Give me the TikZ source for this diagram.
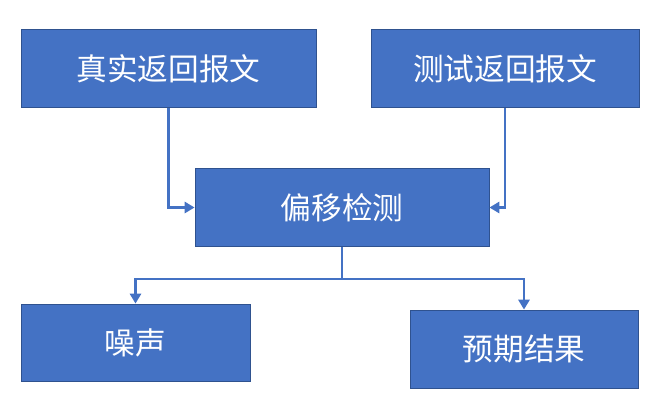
\documentclass[tikz,border=0pt]{standalone}
\usepackage{fontspec}
\usepackage{tikz}
\usetikzlibrary{arrows.meta,positioning}
\newfontfamily\cjk{Noto Sans CJK SC}
\definecolor{boxblue}{RGB}{68,114,196}
\definecolor{edgeblue}{RGB}{47,82,143}

\begin{document}
\begin{tikzpicture}[
      box/.style={rectangle, draw=edgeblue, line width=0.7pt, fill=boxblue, text=white, inner sep=0pt, minimum height=1.95cm, font=\cjk\fontsize{21.8}{24}\selectfont},
      arrow/.style={-{Triangle[width=8pt,length=7pt]}, draw=boxblue, line width=1.5pt}
    ]
    \useasboundingbox (0,0) rectangle (16.625,10.325);

    % Top row
    \node[box, minimum width=7.375cm] (real) at (4.2125,8.6125) {真实返回报文};
    \node[box, minimum width=6.7cm] (test) at (12.625,8.6125) {测试返回报文};

    % Middle
    \node[box, minimum width=7.35cm] (offset) at (8.55,5.1375) {偏移检测};

    % Bottom row
    \node[box, minimum width=5.725cm, minimum height=1.925cm] (noise) at (3.3875,1.7625) {噪声};
    \node[box, minimum width=5.7cm] (expect) at (13.1,1.6) {预期结果};

    % Inputs into offset detection
    \draw[arrow] (real.south) |- (offset.west);
    \draw[arrow] (test.south) |- (offset.east);

    % Split to outputs
    \coordinate[below=0.8cm of offset.south] (split);
    \draw[arrow] (offset.south) -- (split) -| (noise.north);
    \draw[arrow] (split) -| (expect.north);
\end{tikzpicture}
\end{document}
